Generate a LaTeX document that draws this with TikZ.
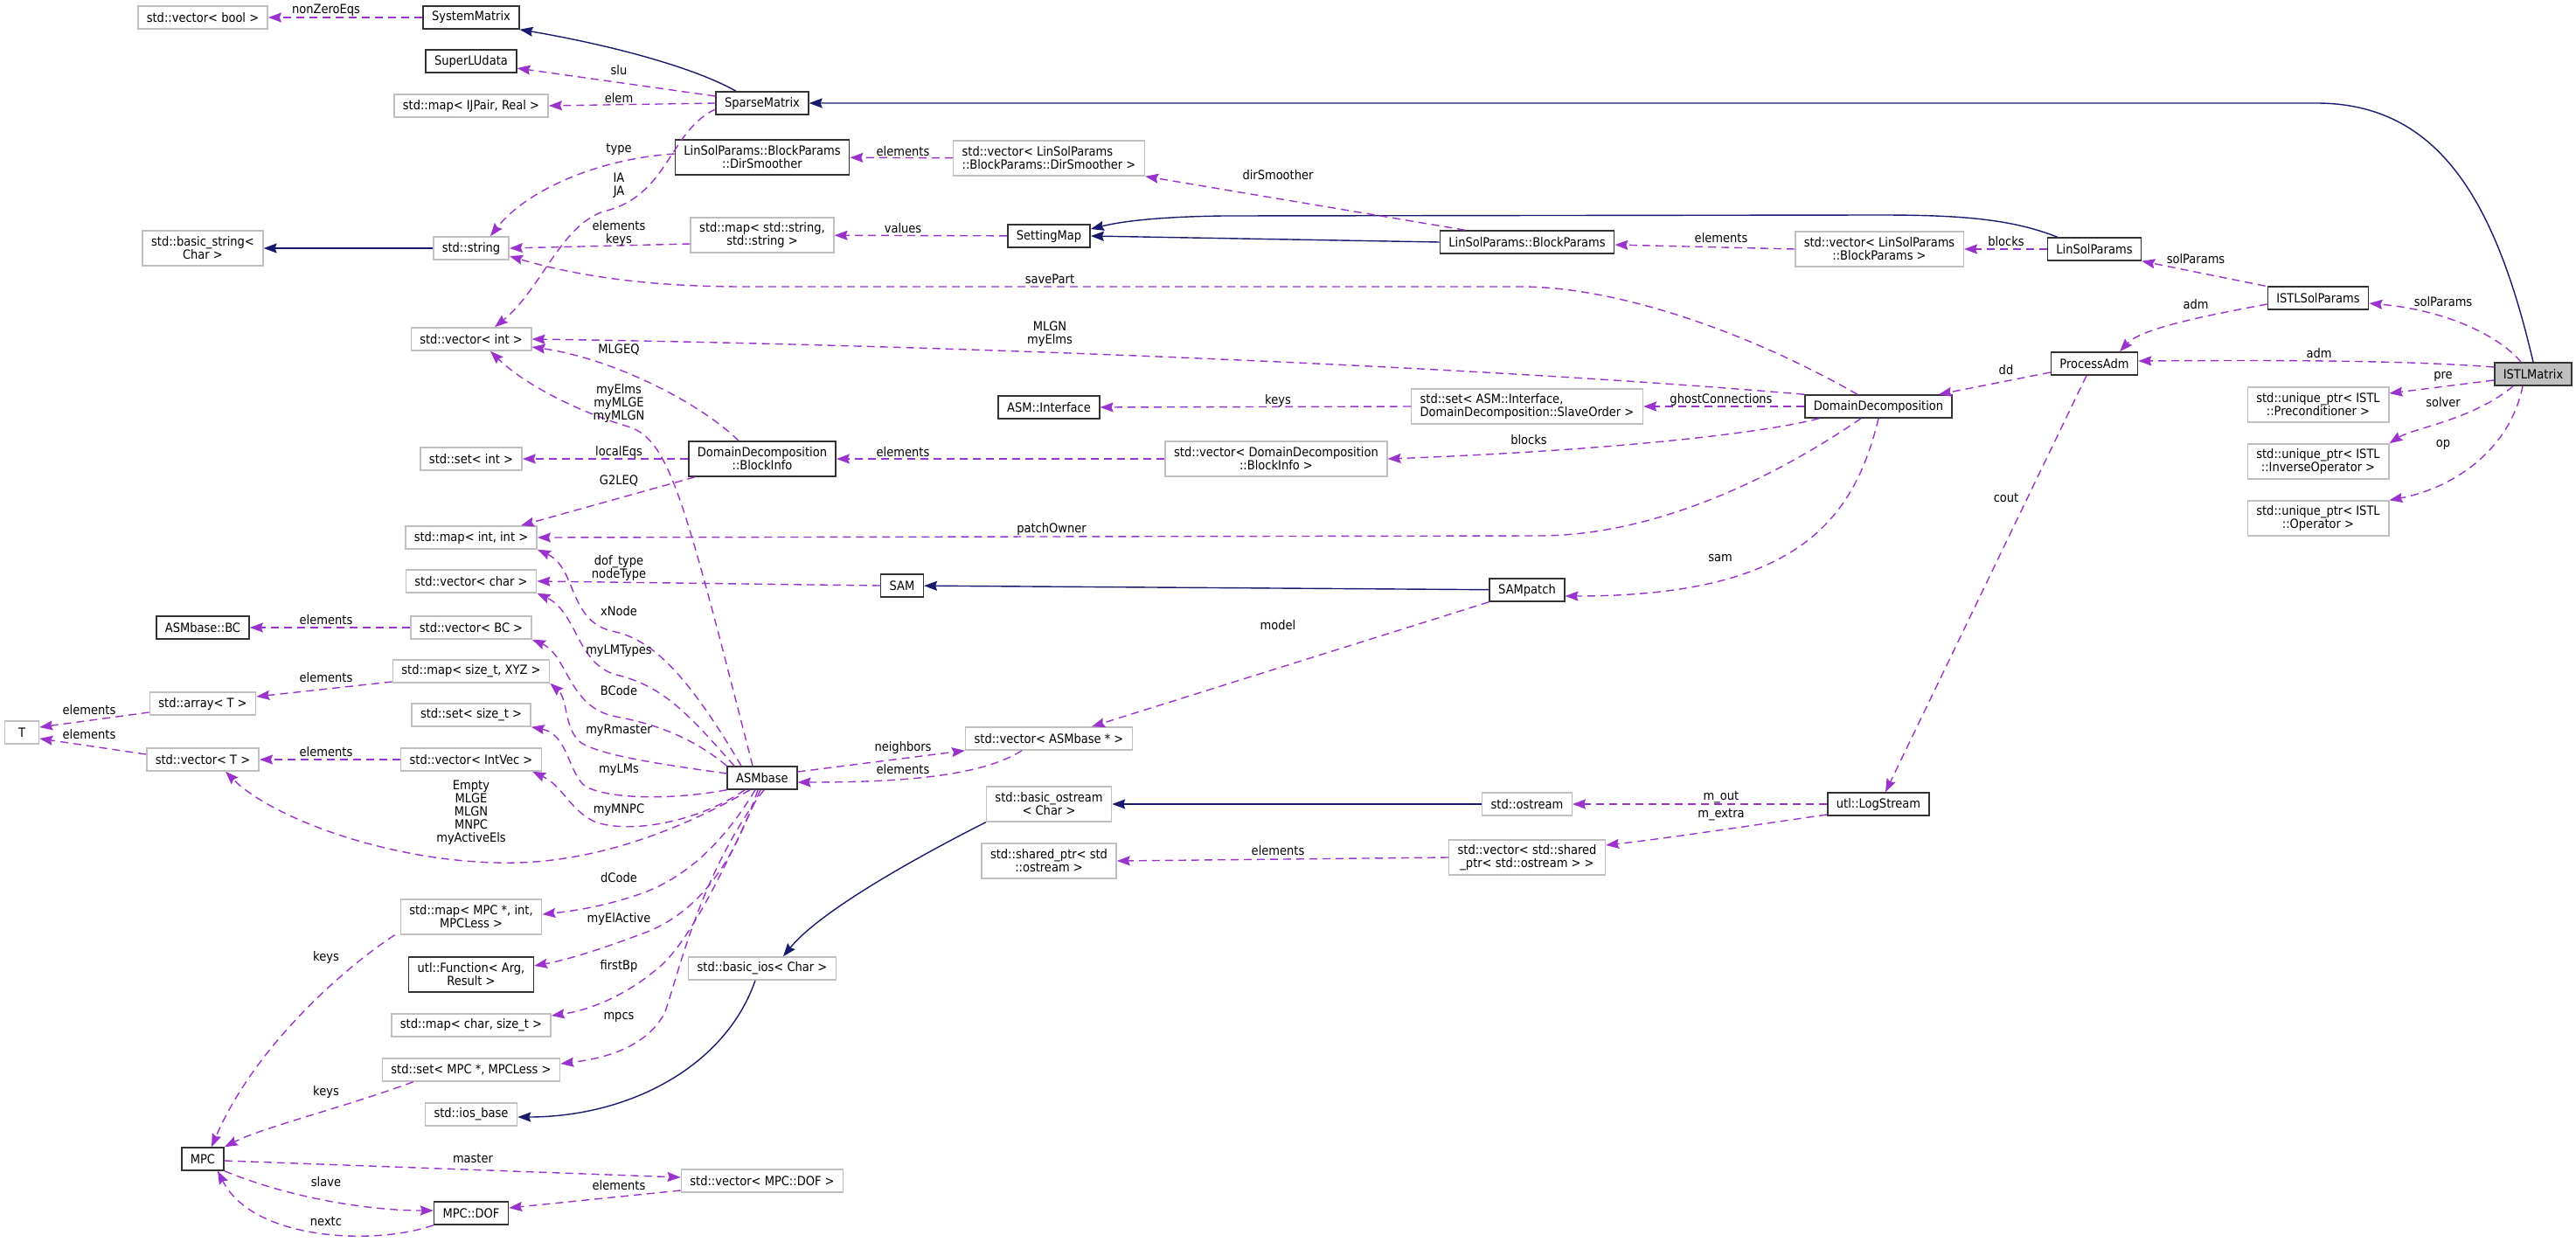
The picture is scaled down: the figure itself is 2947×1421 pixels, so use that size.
\documentclass[tikz,border=0pt]{standalone}
\usepackage{fontspec}
\setmainfont{DejaVu Sans Condensed}
\usepackage{tikz}
\usetikzlibrary{arrows.meta}
\definecolor{inhcol}{HTML}{191970}
\definecolor{depcol}{HTML}{9A32CD}
\definecolor{extcol}{HTML}{BFBFBF}

\begin{document}
\begin{tikzpicture}[x=1pt, y=-1pt,
    txt/.style={font=\fontsize{14.5}{15}\selectfont},
    cls/.style={txt, draw=black!80, line width=1.5pt, fill=white, inner xsep=10pt, inner ysep=2pt, minimum height=26pt},
    ext/.style={cls, draw=extcol},
    cur/.style={cls, fill=extcol},
    two/.style={align=center, minimum height=40pt},
    twol/.style={align=left, minimum height=40pt},
    inh/.style={draw=inhcol, line width=1.4pt, -{Stealth[length=15pt, width=11pt, inset=2pt]}},
    dep/.style={draw=depcol, line width=1.4pt, dash pattern=on 9pt off 6pt, -{Stealth[length=15pt, width=11pt, inset=2pt]}},
    lbl/.style={txt, align=center, inner sep=0pt}]
    \useasboundingbox (0,0) rectangle (2947,1421);

    \node[ext] (vbool) at (232,20) {std::vector< bool >};
    \node[cls] (sysmat) at (539,20) {SystemMatrix};
    \node[cls] (superlu) at (539,70) {SuperLUdata};
    \node[ext] (ijmap) at (539,121) {std::map< IJPair, Real >};
    \node[cls] (spm) at (872,118) {SparseMatrix};
    \node[cls, two] (dirsm) at (872,180) {LinSolParams::BlockParams\\::DirSmoother};
    \node[ext, two] (bstring) at (232,284) {std::basic\_string<\\Char >};
    \node[ext] (string) at (539,284) {std::string};
    \node[ext, two] (strmap) at (872,269) {std::map< std::string,\\std::string >};
    \node[ext] (vint) at (539,388) {std::vector< int >};
    \node[ext, twol] (vdirsm) at (1200,181) {std::vector< LinSolParams\\::BlockParams::DirSmoother >};
    \node[cls] (setmap) at (1200,270) {SettingMap};
    \node[cls] (bparams) at (1747,277) {LinSolParams::BlockParams};
    \node[cls] (asmif) at (1200,466) {ASM::Interface};
    \node[ext, twol] (setif) at (1747,465) {std::set< ASM::Interface,\\ DomainDecomposition::SlaveOrder >};
    \node[ext, two] (vbparams) at (2150,285) {std::vector< LinSolParams\\::BlockParams >};
    \node[cls] (linsol) at (2396,285) {LinSolParams};
    \node[cls] (istlsol) at (2652,341) {ISTLSolParams};
    \node[cls] (padm) at (2396,416) {ProcessAdm};
    \node[cur] (istl) at (2898,428) {ISTLMatrix};
    \node[cls] (ddec) at (2149,465) {DomainDecomposition};
    \node[ext, two] (upre) at (2652,463) {std::unique\_ptr< ISTL\\::Preconditioner >};
    \node[ext, two] (uinv) at (2652,528) {std::unique\_ptr< ISTL\\::InverseOperator >};
    \node[ext, two] (uop) at (2652,593) {std::unique\_ptr< ISTL\\::Operator >};
    \node[cls] (logs) at (2149,920) {utl::LogStream};
    \node[ext] (setint) at (539,525) {std::set< int >};
    \node[cls, two] (binfo) at (872,525) {DomainDecomposition\\::BlockInfo};
    \node[ext] (mapii) at (539,615) {std::map< int, int >};
    \node[ext] (vchar) at (539,665) {std::vector< char >};
    \node[cls] (bc) at (232,718) {ASMbase::BC};
    \node[ext] (vbc) at (539,718) {std::vector< BC >};
    \node[ext] (mapxyz) at (539,768) {std::map< size\_t, XYZ >};
    \node[ext] (arrT) at (232,805) {std::array< T >};
    \node[ext, minimum width=39pt] (T) at (25,838) {T};
    \node[ext] (setsz) at (539,818) {std::set< size\_t >};
    \node[ext] (vT) at (232,869) {std::vector< T >};
    \node[ext] (vintvec) at (539,869) {std::vector< IntVec >};
    \node[cls] (asmb) at (872,890) {ASMbase};
    \node[ext, two] (vbinfo) at (1460,525) {std::vector< DomainDecomposition\\::BlockInfo >};
    \node[cls] (sam) at (1032,670) {SAM};
    \node[cls] (sampatch) at (1747,675) {SAMpatch};
    \node[ext] (vasmb) at (1200,845) {std::vector< ASMbase * >};
    \node[ext, two] (bostream) at (1200,920) {std::basic\_ostream\\< Char >};
    \node[ext] (ostream) at (1747,920) {std::ostream};
    \node[ext, two] (sptr) at (1200,985) {std::shared\_ptr< std\\::ostream >};
    \node[ext, two] (vsptr) at (1747,981) {std::vector< std::shared\\\_ptr< std::ostream > >};
    \node[ext, two] (mapmpc) at (539,1049) {std::map< MPC *, int,\\MPCLess >};
    \node[cls, two] (func) at (539,1115) {utl::Function< Arg,\\Result >};
    \node[ext] (bios) at (872,1108) {std::basic\_ios< Char >};
    \node[ext] (mapchar) at (539,1173) {std::map< char, size\_t >};
    \node[ext] (setmpc) at (539,1224) {std::set< MPC *, MPCLess >};
    \node[ext] (iosbase) at (539,1275) {std::ios\_base};
    \node[cls] (mpc) at (232,1326) {MPC};
    \node[ext] (vdof) at (872,1351) {std::vector< MPC::DOF >};
    \node[cls] (dof) at (539,1388) {MPC::DOF};

    \draw[inh] ([xshift=-30pt]spm.north) .. controls (790,75) and (690,50) .. (sysmat.south east);
    \draw[inh] (istl.north) .. controls (2855,230) and (2790,118) .. (2650,118) -- (spm.east);
    \draw[inh] ([xshift=12pt]linsol.north west) .. controls (2300,250) and (2240,246) .. (2150,246) -- (1400,247) .. controls (1320,248) and (1280,254) .. ([yshift=8pt]setmap.east);
    \draw[inh] (bparams.west) -- (setmap.east);
    \draw[inh] (string) -- (bstring);
    \draw[inh] (sampatch) -- (sam);
    \draw[inh] (ostream) -- (bostream);
    \draw[inh] (bostream.south west) .. controls (1060,975) and (940,1040) .. ([xshift=24pt]bios.north);
    \draw[inh] ([xshift=-8pt]bios.south) .. controls (830,1220) and (720,1278) .. ([yshift=-3pt]iosbase.east);

    \draw[dep] (sysmat) -- (vbool);
    \draw[dep] ([yshift=8pt]spm.west) -- ([yshift=-8pt]superlu.east);
    \draw[dep] (spm.west) -- (ijmap.east);
    \draw[dep] ([yshift=-7pt]spm.west) .. controls (765,150) and (765,225) .. (690,242) .. controls (640,260) and (620,330) .. ([xshift=27pt]vint.north);
    \draw[dep] ([yshift=4pt]dirsm.west) .. controls (680,182) and (600,220) .. ([xshift=22pt]string.north);
    \draw[dep] ([yshift=-10pt]strmap.west) -- (string.east);
    \draw[dep] ([xshift=-24pt]ddec.north) .. controls (2000,380) and (1850,328) .. (1740,328) -- (850,328) .. controls (720,328) and (640,310) .. ([yshift=-9pt]string.east);
    \draw[dep] (ddec.north west) .. controls (1700,420) and (1100,395) .. (vint.east);
    \draw[dep] (ddec.west) -- (setif.east);
    \draw[dep] (setif.west) -- (asmif.east);
    \draw[dep] ([xshift=17pt]ddec.south west) .. controls (2020,495) and (1850,515) .. (vbinfo.east);
    \draw[dep] (vbinfo) -- (binfo);
    \draw[dep] ([xshift=-27pt]binfo.north) .. controls (800,460) and (700,410) .. ([yshift=-9pt]vint.east);
    \draw[dep] (binfo) -- (setint);
    \draw[dep] ([xshift=8pt]binfo.south west) -- ([xshift=57pt]mapii.north);
    \draw[dep] ([xshift=-20pt]ddec.south) .. controls (2040,540) and (1900,613) .. (1760,613) -- (mapii.east);
    \draw[dep] (ddec.south) .. controls (2120,600) and (2050,682) .. ([yshift=-7pt]sampatch.east);
    \draw[dep] (sampatch.south west) -- ([xshift=49pt]vasmb.north);
    \draw[dep] ([yshift=-10pt]padm.west) -- ([xshift=-16pt]ddec.north east);
    \draw[dep] ([xshift=-9pt]padm.south) -- ([xshift=8pt]logs.north);
    \draw[dep] ([yshift=-7pt]istlsol.west) .. controls (2530,360) and (2450,375) .. ([xshift=29pt]padm.north);
    \draw[dep] ([xshift=-2pt]istlsol.north west) -- (linsol.south east);
    \draw[dep] (linsol) -- (vbparams);
    \draw[dep] (vbparams.west) -- ([yshift=-3pt]bparams.east);
    \draw[dep] ([xshift=-71pt]bparams.north) -- (vdirsm.south east);
    \draw[dep] (vdirsm) -- (dirsm);
    \draw[dep] (setmap) -- (strmap);
    \draw[dep] ([xshift=-14pt]istl.north) .. controls (2860,385) and (2800,355) .. ([yshift=-6pt]istlsol.east);
    \draw[dep] ([yshift=8pt]istl.west) .. controls (2750,412) and (2600,412) .. ([yshift=3pt]padm.east);
    \draw[dep] ([yshift=-7pt]istl.west) -- ([yshift=13pt]upre.east);
    \draw[dep] ([xshift=-23pt]istl.south) .. controls (2830,480) and (2760,490) .. (uinv.north east);
    \draw[dep] ([xshift=-12pt]istl.south) .. controls (2870,520) and (2800,560) .. (uop.north east);
    \draw[dep] (logs) -- (ostream);
    \draw[dep] ([yshift=-12pt]logs.west) .. controls (2000,945) and (1900,960) .. ([yshift=14pt]vsptr.east);
    \draw[dep] (vsptr.west) -- (sptr.east);
    \draw[dep] ([yshift=7pt]asmb.east) -- (vasmb.south west);
    \draw[dep] ([xshift=-31pt]vasmb.south) .. controls (1120,890) and (1020,895) .. ([yshift=-5pt]asmb.east);
    \draw[dep] ([xshift=-11pt]asmb.north) .. controls (780,560) and (765,500) .. (715,487) .. controls (660,470) and (600,440) .. ([xshift=22pt]vint.south);
    \draw[dep] ([xshift=-24pt]asmb.north) .. controls (780,760) and (740,730) .. (700,722) .. controls (650,710) and (660,650) .. (mapii.south east);
    \draw[dep] ([xshift=-32pt]asmb.north) .. controls (790,820) and (760,785) .. (705,772) .. controls (660,760) and (660,700) .. (vchar.south east);
    \draw[dep] (asmb.north west) .. controls (800,850) and (760,830) .. (705,820) .. controls (650,810) and (650,750) .. (vbc.south east);
    \draw[dep] ([yshift=5pt]asmb.west) .. controls (760,875) and (690,865) .. (665,850) .. controls (645,835) and (650,800) .. (mapxyz.south east);
    \draw[dep] (asmb.south west) .. controls (770,915) and (700,915) .. (670,900) .. controls (650,885) and (650,840) .. (setsz.south east);
    \draw[dep] ([xshift=-20pt]asmb.south) .. controls (800,940) and (720,955) .. (680,940) .. controls (650,925) and (645,900) .. ([xshift=-11pt]vintvec.south east);
    \draw[dep] ([xshift=-14pt]asmb.south) .. controls (760,960) and (660,990) .. (568,987) .. controls (440,984) and (310,935) .. ([xshift=26pt]vT.south);
    \draw[dep] ([xshift=-8pt]asmb.south) .. controls (830,960) and (790,1000) .. (740,1020) .. controls (700,1035) and (660,1042) .. ([yshift=3pt]mapmpc.east);
    \draw[dep] ([xshift=-5pt]asmb.south) .. controls (835,1000) and (790,1050) .. (730,1070) .. controls (690,1085) and (650,1098) .. ([yshift=10pt]func.east);
    \draw[dep] ([xshift=-2pt]asmb.south) .. controls (835,980) and (790,1080) .. (750,1110) .. controls (720,1135) and (680,1155) .. ([yshift=11pt]mapchar.east);
    \draw[dep] ([xshift=2pt]asmb.south) .. controls (800,1000) and (775,1120) .. (760,1160) .. controls (740,1195) and (700,1210) .. ([yshift=7pt]setmpc.east);
    \draw[dep] ([xshift=-6pt]mapmpc.south west) .. controls (390,1110) and (290,1200) .. ([xshift=10pt]mpc.north);
    \draw[dep] ([xshift=36pt]setmpc.south west) .. controls (400,1265) and (300,1290) .. (mpc.north east);
    \draw[dep] ([yshift=-2pt]mpc.east) -- ([yshift=4pt]vdof.west);
    \draw[dep] (mpc.south east) .. controls (330,1370) and (420,1385) .. ([yshift=3pt]dof.west);
    \draw[dep] (dof.south west) .. controls (430,1425) and (290,1420) .. ([xshift=17pt]mpc.south);
    \draw[dep] ([yshift=-11pt]vdof.west) -- ([yshift=6pt]dof.east);
    \draw[dep] ([yshift=-12pt]mapxyz.west) -- ([yshift=8pt]arrT.east);
    \draw[dep] ([yshift=-10pt]arrT.west) -- ([yshift=6pt]T.east);
    \draw[dep] ([yshift=6pt]vT.west) -- ([yshift=-7pt]T.east);
    \draw[dep] (vintvec) -- (vT);
    \draw[dep] (vbc) -- (bc);
    \draw[dep] (sam.west) -- (vchar.east);

    \node[lbl] (lnonzero) at (373,12) {nonZeroEqs};
    \node[lbl] (lslu) at (708,80) {slu};
    \node[lbl] (lelem) at (708,112) {elem};
    \node[lbl] (ltype) at (708,171) {type};
    \node[lbl] (liaja) at (708,212) {IA\\JA};
    \node[lbl] (lelkeys) at (708,267) {elements\\keys};
    \node[lbl] (lmlgeq) at (708,400) {MLGEQ};
    \node[lbl] (lmyelms) at (708,461) {myElms\\myMLGE\\myMLGN};
    \node[lbl] (lelds) at (1033,173) {elements};
    \node[lbl] (lvalues) at (1033,261) {values};
    \node[lbl] (ldirsm) at (1462,200) {dirSmoother};
    \node[lbl] (lsave) at (1201,319) {savePart};
    \node[lbl] (lmlgn) at (1201,382) {MLGN\\myElms};
    \node[lbl] (lkeysif) at (1462,458) {keys};
    \node[lbl] (lghost) at (1969,457) {ghostConnections};
    \node[lbl] (lelbp) at (1969,272) {elements};
    \node[lbl] (lblocks) at (2295,276) {blocks};
    \node[lbl] (lsolpa) at (2512,296) {solParams};
    \node[lbl] (ladma) at (2512,348) {adm};
    \node[lbl] (lsolpb) at (2795,345) {solParams};
    \node[lbl] (ladmb) at (2653,404) {adm};
    \node[lbl] (lpre) at (2795,431) {pre};
    \node[lbl] (lsolver) at (2795,460) {solver};
    \node[lbl] (lop) at (2795,509) {op};
    \node[lbl] (ldd) at (2295,423) {dd};
    \node[lbl] (lcout) at (2295,570) {cout};
    \node[lbl] (lblocksb) at (1749,503) {blocks};
    \node[lbl] (lelbi) at (1033,517) {elements};
    \node[lbl] (llocal) at (708,517) {localEqs};
    \node[lbl] (lg2l) at (708,550) {G2LEQ};
    \node[lbl] (lowner) at (1203,605) {patchOwner};
    \node[lbl] (lsam) at (1968,639) {sam};
    \node[lbl] (lmodel) at (1462,715) {model};
    \node[lbl] (ldoftype) at (708,650) {dof\_type\\nodeType};
    \node[lbl] (lxnode) at (708,699) {xNode};
    \node[lbl] (llmtypes) at (708,745) {myLMTypes};
    \node[lbl] (lbcode) at (708,790) {BCode};
    \node[lbl] (lrmaster) at (708,836) {myRmaster};
    \node[lbl] (llms) at (708,881) {myLMs};
    \node[lbl] (lmnpc) at (708,927) {myMNPC};
    \node[lbl] (lelbc) at (373,709) {elements};
    \node[lbl] (lelxyz) at (373,775) {elements};
    \node[lbl] (lelarr) at (102,812) {elements};
    \node[lbl] (lelvt) at (102,840) {elements};
    \node[lbl] (lelivec) at (373,860) {elements};
    \node[lbl] (lempty) at (539,930) {Empty\\MLGE\\MLGN\\MNPC\\myActiveEls};
    \node[lbl] (lneigh) at (1033,855) {neighbors};
    \node[lbl] (lelasm) at (1033,880) {elements};
    \node[lbl] (lmout) at (1969,912) {m\_out};
    \node[lbl] (lmextra) at (1969,932) {m\_extra};
    \node[lbl] (lelsp) at (1462,973) {elements};
    \node[lbl] (ldcode) at (708,1004) {dCode};
    \node[lbl] (lelact) at (708,1051) {myElActive};
    \node[lbl] (lfirstbp) at (708,1105) {firstBp};
    \node[lbl] (lmpcs) at (708,1164) {mpcs};
    \node[lbl] (lkeysa) at (373,1095) {keys};
    \node[lbl] (lkeysb) at (373,1249) {keys};
    \node[lbl] (lmaster) at (541,1325) {master};
    \node[lbl] (lslave) at (373,1352) {slave};
    \node[lbl] (lnextc) at (373,1397) {nextc};
    \node[lbl] (leldof) at (708,1356) {elements};
\end{tikzpicture}
\end{document}
